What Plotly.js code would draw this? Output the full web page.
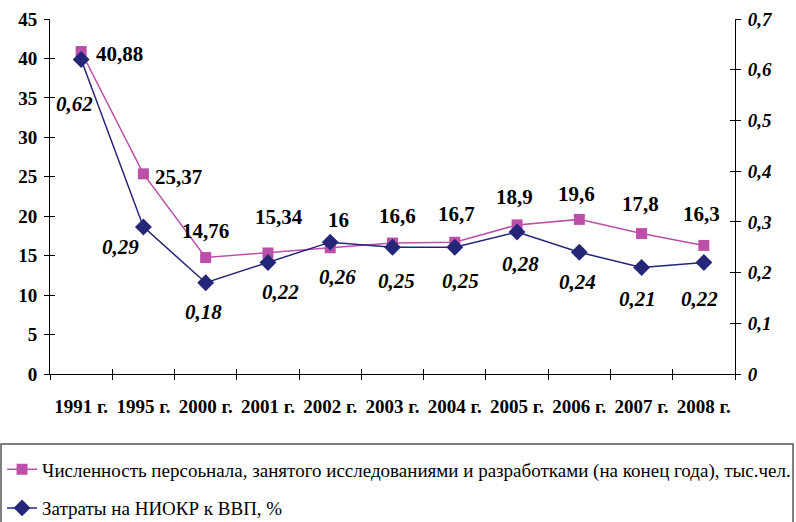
<!DOCTYPE html>
<html>
<head>
<meta charset="utf-8">
<script src="https://cdn.plot.ly/plotly-3.0.1.min.js"></script>
<style>html,body{margin:0;padding:0;background:#fff}#chart{width:796px;height:522px}</style>
</head>
<body>
<div id="chart"></div>
<script>
const categories = ["1991 г.","1995 г.","2000 г.","2001 г.","2002 г.","2003 г.","2004 г.","2005 г.","2006 г.","2007 г.","2008 г."];
const staffValues = [40.88, 25.37, 14.76, 15.34, 16, 16.6, 16.7, 18.9, 19.6, 17.8, 16.3];
const rdGdpValues = [0.62, 0.29, 0.18, 0.22, 0.26, 0.25, 0.25, 0.28, 0.24, 0.21, 0.22];
const staffName = "Численность персоьнала, занятого исследованиями и разработками (на конец года), тыс.чел.";
const rdName = "Затраты на НИОКР к ВВП, %";

// label offsets (pixels) — styling only
const staffDx = [38,35,0,11,8,5,2,-3,-3,-1,-2];
const staffDy = [-2,-3,27,36,28,27,28,28,25,30,31];
const rdDx = [-7,-23,-2,13,7,4,6,3,-2,-4,-4];
const rdDy = [-44,-20,-29,-30,-35,-34,-34,-32,-30,-31,-37];

const FONT = "Liberation Serif";
const PURPLE = "#BC4FA8";
const NAVY = "#252678";

const fmt = v => String(v).replace(".", ",");

const traces = [
  {
    x: categories, y: staffValues, name: staffName, type: "scatter", mode: "lines+markers",
    line: {color: PURPLE, width: 1.5},
    marker: {symbol: "square", size: 11, color: PURPLE},
    xaxis: "x", yaxis: "y", legendgroup: "a", hoverinfo: "skip"
  },
  {
    x: categories, y: rdGdpValues, name: rdName, type: "scatter", mode: "lines+markers",
    line: {color: NAVY, width: 1.5},
    marker: {symbol: "diamond", size: 13, color: NAVY},
    xaxis: "x", yaxis: "y2", legendgroup: "b", hoverinfo: "skip"
  },
  {
    x: categories, y: staffValues, type: "scatter", mode: "markers",
    marker: {opacity: 0}, showlegend: false, hoverinfo: "skip",
    xaxis: "x2", yaxis: "y3"
  },
  {
    x: categories, y: rdGdpValues, type: "scatter", mode: "markers",
    marker: {opacity: 0}, showlegend: false, hoverinfo: "skip",
    xaxis: "x2", yaxis: "y4"
  }
];

const annotations = [];
categories.forEach((c, i) => {
  annotations.push({
    x: c, y: staffValues[i], xref: "x", yref: "y", text: fmt(staffValues[i]),
    showarrow: false, xshift: staffDx[i], yshift: staffDy[i],
    font: {family: FONT, size: 21, color: "#000", weight: "bold"}
  });
  annotations.push({
    x: c, y: rdGdpValues[i], xref: "x", yref: "y2", text: fmt(rdGdpValues[i]),
    showarrow: false, xshift: rdDx[i], yshift: rdDy[i],
    font: {family: FONT, size: 21, color: "#000", weight: "bold", style: "italic"}
  });
});

const tickFont = {family: FONT, size: 19, color: "#000", weight: "bold"};
const baseX = {
  type: "category", range: [-0.5, 10.5], tickson: "boundaries",
  showgrid: false, zeroline: false, showline: true, linecolor: "#000", linewidth: 1,
  ticklen: 5, tickcolor: "#000", tickwidth: 1, fixedrange: true
};
const baseY = {
  range: [0, 45], dtick: 5, tick0: 0, showgrid: false, zeroline: false,
  showline: true, linecolor: "#000", linewidth: 1, ticklen: 5, tickcolor: "#000", fixedrange: true
};
const baseY2 = Object.assign({}, baseY, {range: [0, 0.7], dtick: 0.1});

const layout = {
  width: 796, height: 522,
  margin: {l: 50, r: 61, t: 19, b: 148, autoexpand: false},
  paper_bgcolor: "#fff", plot_bgcolor: "#fff",
  separators: ", ",
  font: {family: FONT, color: "#000"},
  showlegend: true,
  xaxis: Object.assign({}, baseX, {ticks: "outside", tickangle: 0, tickfont: {family: FONT, size: 19, color: "#000", weight: "bold"}, ticklabelstandoff: 15}),
  xaxis2: Object.assign({}, baseX, {overlaying: "x", ticks: "inside", showticklabels: false, anchor: "y3"}),
  yaxis: Object.assign({}, baseY, {ticks: "outside", tickfont: tickFont, ticklabelstandoff: 3}),
  yaxis3: Object.assign({}, baseY, {overlaying: "y", ticks: "inside", showticklabels: false, anchor: "x2"}),
  yaxis2: Object.assign({}, baseY2, {overlaying: "y", side: "right", ticks: "outside", anchor: "x",
    tickfont: {family: FONT, size: 19, color: "#000", weight: "bold", style: "italic"}, ticklabelstandoff: 3}),
  yaxis4: Object.assign({}, baseY2, {overlaying: "y", side: "right", ticks: "inside", showticklabels: false, anchor: "x2"}),
  legend: {
    x: -0.07, xanchor: "left", y: -0.215, yanchor: "top",
    font: {family: FONT, size: 19, color: "#000"},
    bgcolor: "rgba(0,0,0,0)", borderwidth: 0,
    traceorder: "grouped", tracegroupgap: 11, itemwidth: 30
  },
  shapes: [
    {type: "rect", xref: "paper", yref: "paper",
     x0: -49/685, x1: 743/685, y0: -(444-374)/355, y1: -(540-374)/355,
     line: {color: "#555", width: 1.5}, fillcolor: "rgba(0,0,0,0)"}
  ],
  annotations: annotations
};

Plotly.newPlot("chart", traces, layout, {displayModeBar: false, staticPlot: true});
</script>
</body>
</html>
